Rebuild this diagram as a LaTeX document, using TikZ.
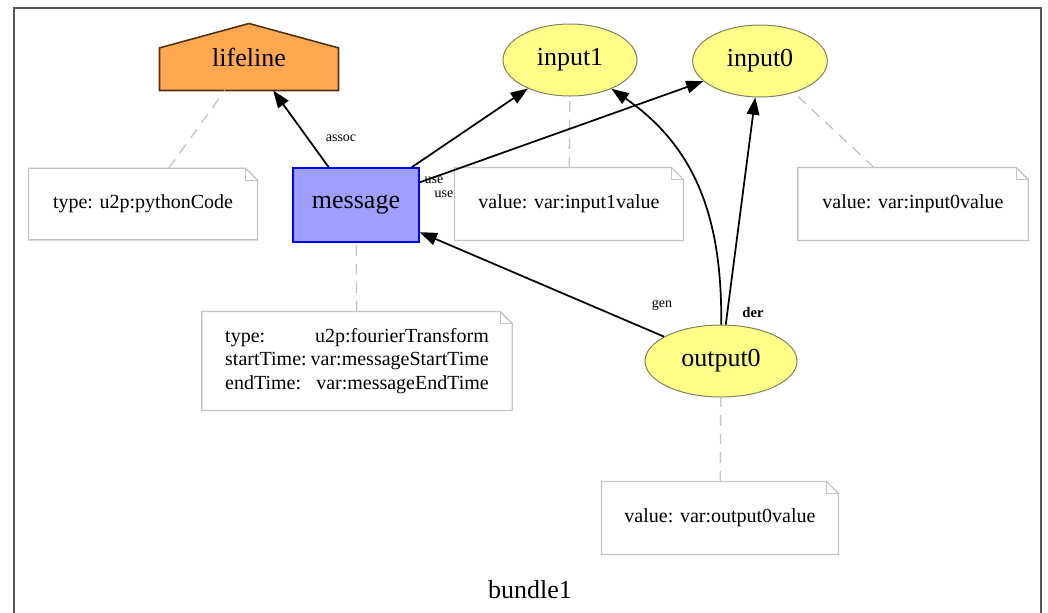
\documentclass[tikz,border=0pt]{standalone}
\usepackage{fontspec}
\setmainfont{Liberation Serif}
\usetikzlibrary{arrows.meta,shapes.geometric,backgrounds,calc}

\definecolor{framegrey}{RGB}{85,85,85}
\definecolor{notegrey}{RGB}{196,196,196}
\definecolor{entityfill}{RGB}{255,255,136}
\definecolor{entitydraw}{RGB}{128,128,96}
\definecolor{activityfill}{RGB}{159,159,255}
\definecolor{activitydraw}{RGB}{0,0,255}
\definecolor{agentfill}{RGB}{255,168,80}
\definecolor{agentdraw}{RGB}{80,50,20}

\tikzset{every picture/.style={line width=0.75pt}}
\tikzset{
  entity/.style={ellipse, draw=entitydraw, fill=entityfill, inner sep=0pt, minimum width=101pt, minimum height=54pt, font=\fontsize{19.5}{22}\selectfont},
  activity/.style={rectangle, draw=activitydraw, line width=1pt, fill=activityfill, inner sep=0pt, minimum width=94.5pt, minimum height=55.5pt, font=\fontsize{19.5}{22}\selectfont},
  agent/.style={rectangle, inner sep=0pt, minimum width=133.5pt, minimum height=49.5pt, font=\fontsize{19.5}{22}\selectfont},
  annot/.style={rectangle, inner sep=0pt, minimum height=54pt, font=\fontsize{15}{17.6}\selectfont},
  notefold/.style={draw=notegrey, line width=1pt},
  annolink/.style={draw=notegrey, dash pattern=on 8pt off 6pt, line width=1pt},
  provedge/.style={line width=1.3pt, -{Triangle[length=13pt,width=9.5pt]}},
  edgelabel/.style={inner sep=0.75pt, font=\fontsize{10.5}{12}\selectfont},
}

\begin{document}
\begin{tikzpicture}[x=0.75pt,y=0.75pt,yscale=-1,xscale=1]
\useasboundingbox (0,0) rectangle (1048,612);
\clip (0,0) rectangle (1048,612);

%Frame of the bundle
\draw [color=framegrey, line width=1.5pt] (14,8) rectangle (1041,660);

%Nodes
\node [agent] (lifeline) at (249,57) {lifeline};
\node [activity] (message) at (356,205) {message};
\node [entity, minimum width=100.5pt] (input1) at (570,60) {input1};
\node [entity] (input0) at (760,61) {input0};
\node [entity, minimum width=114pt] (output0) at (721,361) {output0};

%House shape of the agent
\begin{scope}[on background layer]
\filldraw [draw=agentdraw, fill=agentfill, line width=1.2pt] (lifeline.south west) -- ($(lifeline.south west)!0.636!(lifeline.north west)$) -- (lifeline.north) -- ($(lifeline.south east)!0.636!(lifeline.north east)$) -- (lifeline.south east) -- cycle;
\end{scope}

%Notes
\node [annot, minimum width=171pt, minimum height=53pt] (lifelinenote) at (143,204) {type: u2p:pythonCode};
\node [annot, minimum width=171pt] (input1note) at (569,204) {value: var:input1value};
\node [annot, minimum width=172pt] (input0note) at (913,204) {value: var:input0value};
\node [annot, minimum width=232pt, minimum height=73.5pt] (messagenote) at (357,361) {\begin{tabular}{@{}l@{\hspace{3pt}}r@{}}
type: & u2p:fourierTransform\\
startTime: & var:messageStartTime\\
endTime: & var:messageEndTime
\end{tabular}};
\node [annot, minimum width=177pt] (output0note) at (720,518) {value: var:output0value};

\foreach \n in {lifelinenote,input1note,input0note,messagenote,output0note}{
  \draw [notefold] (\n.south west) -- (\n.north west) -- ($(\n.north east)+(-12,0)$) -- ($(\n.north east)+(0,12)$) -- (\n.south east) -- cycle;
  \draw [notefold] ($(\n.north east)+(-12,0)$) |- ($(\n.north east)+(0,12)$);
}

%Links from notes
\foreach \a/\b in {lifelinenote/lifeline,input1note/input1,input0note/input0,messagenote/message,output0note/output0}
  \draw [annolink] (\a) -- (\b);

%Relations
\draw [provedge] (message) -- (lifeline);
\draw [provedge] (message) -- (input1);
\draw [provedge] (message) -- (input0);
\draw [provedge] (output0) -- (message);
\draw [provedge] (output0) .. controls (722,225) and (700,150) .. (input1);
\draw [provedge] (output0) -- (input0);

%Relation labels
\node [edgelabel] (assoclabel) at (341,138) {assoc};
\node [edgelabel] (uselabel1) at (434,180) {use};
\node [edgelabel] (uselabel0) at (444,194) {use};
\node [edgelabel] (genlabel) at (662,305) {gen};
\node [edgelabel, font=\fontsize{11}{12}\selectfont\bfseries] (derlabel) at (753,312) {der};

% Bundle name
\node [font=\fontsize{19.5}{22}\selectfont] (bundlename) at (530,590) {bundle1};

\end{tikzpicture}
\end{document}
